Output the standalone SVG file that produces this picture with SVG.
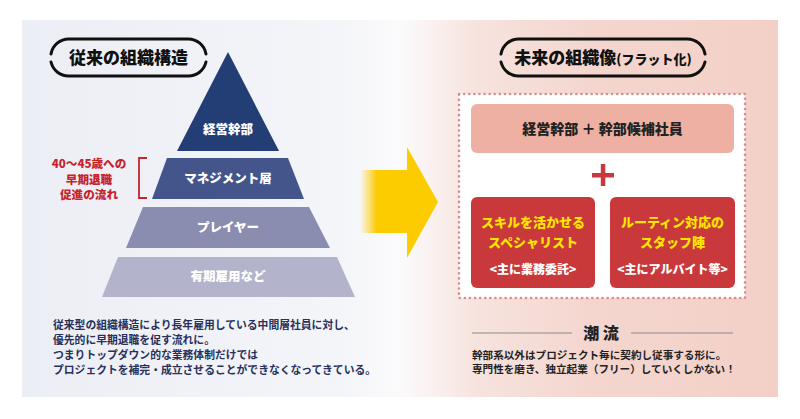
<svg xmlns="http://www.w3.org/2000/svg" width="800" height="419" viewBox="0 0 800 419">
<defs>
<linearGradient id="bg" x1="22" y1="0" x2="778" y2="0" gradientUnits="userSpaceOnUse">
<stop offset="0" stop-color="#eceef5"/>
<stop offset="0.42" stop-color="#f4f5f9"/>
<stop offset="0.5" stop-color="#fbfbfc"/>
<stop offset="0.6" stop-color="#f7e3de"/>
<stop offset="0.75" stop-color="#f4d6cf"/>
<stop offset="1" stop-color="#f3d0c7"/>
</linearGradient>
<linearGradient id="arrowGrad" x1="360" y1="0" x2="377" y2="0" gradientUnits="userSpaceOnUse">
<stop offset="0" stop-color="#fccb00" stop-opacity="0"/>
<stop offset="1" stop-color="#fccb00" stop-opacity="1"/>
</linearGradient>
<style>
.jp{font-family:"Noto Sans CJK JP","Noto Sans",sans-serif;font-weight:700}
.hv{font-weight:900}
.title{font-size:17px;fill:#111}
.layer{font-size:12.5px;fill:#fff;text-anchor:middle}
.red{font-size:11.6px;fill:#c8232b;text-anchor:middle}
.body{font-size:10.8px;fill:#27305a}
.body2{font-size:10.6px;fill:#222}
.pill{fill:none;stroke:#111;stroke-width:3;stroke-linecap:round}
.yel{font-size:13px;fill:#ffe500;text-anchor:middle}
.wht{font-size:12px;fill:#fff;text-anchor:middle}
</style>
</defs>

<rect x="22" y="20" width="756" height="377" fill="url(#bg)"/>

<g id="title-left">
<path class="pill" d="M51 54 A18 18 0 0 1 69 39 H188 A18 18 0 0 1 206 54"/>
<path class="pill" d="M51 62 A18 18 0 0 0 69 76 H188 A18 18 0 0 0 206 62"/>
<text class="jp hv title" x="128.5" y="64" text-anchor="middle">従来の組織構造</text>
</g>

<g id="pyramid">
<g id="layer1">
<polygon points="228,52 279,151 177,151" fill="#233e74"/>
<text class="jp hv layer" x="228" y="134">経営幹部</text>
</g>
<g id="layer2">
<polygon points="167,158 288,158 304,199 152,199" fill="#44558b"/>
<text class="jp hv layer" x="228" y="183">マネジメント層</text>
</g>
<g id="layer3">
<polygon points="143,207 309,207 330,248 126,248" fill="#8a8cb0"/>
<text class="jp hv layer" x="228" y="232">プレイヤー</text>
</g>
<g id="layer4">
<polygon points="118,257 337,257 355,297 102,297" fill="#b3b4cb"/>
<text class="jp hv layer" x="228" y="281">有期雇用など</text>
</g>
</g>

<g id="note-red">
<path d="M147 158 H139 V198 H147" fill="none" stroke="#c8232b" stroke-width="1.8"/>
<text class="jp hv red" x="89" y="168">40〜45歳への</text>
<text class="jp hv red" x="89" y="183.5">早期退職</text>
<text class="jp hv red" x="89" y="199">促進の流れ</text>
</g>

<g id="text-left">
<text class="jp body" x="53" y="329">従来型の組織構造により長年雇用している中間層社員に対し、</text>
<text class="jp body" x="53" y="344">優先的に早期退職を促す流れに。</text>
<text class="jp body" x="53" y="359">つまりトップダウン的な業務体制だけでは</text>
<text class="jp body" x="53" y="374">プロジェクトを補完・成立させることができなくなってきている。</text>
</g>

<g id="connectors">
<polygon points="360,170 407,170 407,147 438,202 407,258 407,233 360,233" fill="url(#arrowGrad)"/>
</g>

<g id="title-right">
<path class="pill" d="M501 54 A18 18 0 0 1 519 39 H687 A18 18 0 0 1 705 54"/>
<path class="pill" d="M501 62 A18 18 0 0 0 519 76 H687 A18 18 0 0 0 705 62"/>
<text class="jp hv title" x="603" y="64" text-anchor="middle">未来の組織像<tspan font-size="13">(フラット化)</tspan></text>
</g>

<g id="flat-box">
<rect x="459" y="94" width="286" height="204" fill="#fff" stroke="#d98a8c" stroke-width="2.5" stroke-dasharray="0.1 5" stroke-linecap="round"/>
</g>

<g id="top-box">
<rect x="471" y="104" width="263" height="49" rx="6" fill="#eeb0a2"/>
<text class="jp hv" x="602.5" y="134" font-size="14" fill="#222" text-anchor="middle">経営幹部 ＋ 幹部候補社員</text>
</g>

<g id="plus">
<rect x="592" y="173" width="22" height="4.5" fill="#c9383a"/>
<rect x="600.8" y="164" width="4.5" height="22" fill="#c9383a"/>
</g>

<g id="box-specialist">
<rect x="471" y="197" width="124" height="91" rx="6" fill="#c9383a"/>
<text class="jp hv yel" x="533" y="227">スキルを活かせる</text>
<text class="jp hv yel" x="533" y="247">スペシャリスト</text>
<text class="jp hv wht" x="533" y="274">&lt;主に業務委託&gt;</text>
</g>

<g id="box-staff">
<rect x="610" y="197" width="125" height="91" rx="6" fill="#c9383a"/>
<text class="jp hv yel" x="672.5" y="227">ルーティン対応の</text>
<text class="jp hv yel" x="672.5" y="247">スタッフ陣</text>
<text class="jp hv wht" x="672.5" y="274">&lt;主にアルバイト等&gt;</text>
</g>

<g id="trend">
<line x1="472" y1="333" x2="572" y2="333" stroke="#8a8a8a" stroke-width="1"/>
<line x1="631" y1="333" x2="733" y2="333" stroke="#8a8a8a" stroke-width="1"/>
<text class="jp hv" x="601" y="339" font-size="16" fill="#222" text-anchor="middle">潮 流</text>
<text class="jp body2" x="472" y="359">幹部系以外はプロジェクト毎に契約し従事する形に。</text>
<text class="jp body2" x="472" y="373">専門性を磨き、独立起業（フリー）していくしかない！</text>
</g>
</svg>
